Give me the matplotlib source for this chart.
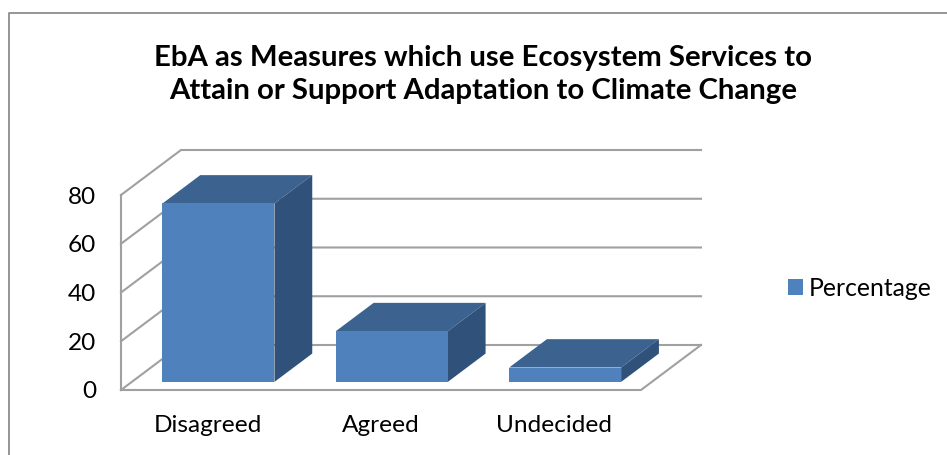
import matplotlib
matplotlib.use("Agg")
import matplotlib.pyplot as plt
from matplotlib.lines import Line2D
from matplotlib.patches import Polygon

plt.rcParams['font.family'] = ['Lato', 'DejaVu Sans']

categories = ['Disagreed', 'Agreed', 'Undecided']
percentage = [73.2, 20.8, 5.9]
y_ticks = [0, 20, 40, 60, 80]
title = 'EbA as Measures which use Ecosystem Services to\nAttain or Support Adaptation to Climate Change'
series_name = 'Percentage'

W, H = 947, 455
FRONT = '#4F81BD'
TOP = '#3C6390'
SIDE = '#30527A'
GRID = '#A0A0A0'

# oblique projection, one depth unit in pixels
DEPTH_X = 60
DEPTH_Y = 45
left, right, y0, y80 = 121, 641, 390, 195
px_x = (right - left) / len(categories)
px_y = (y0 - y80) / 80


def proj(x, v, d):
    return x + d * DEPTH_X / px_x, v + d * DEPTH_Y / px_y


fig = plt.figure(figsize=(W / 100, H / 100), dpi=100)
ax = fig.add_axes([left / W, 1 - y0 / H, (right - left) / W, (y0 - y80) / H])
ax.set_xlim(0, len(categories))
ax.set_ylim(0, 80)
ax.patch.set_visible(False)
for s in ax.spines.values():
    s.set_visible(False)

ax.set_yticks(y_ticks)
ax.set_xticks([i + 0.5 for i in range(len(categories))])
ax.set_xticklabels(categories)
ax.tick_params(axis='y', length=0, pad=18, labelsize=17.6, labelcolor='black')
ax.tick_params(axis='x', length=0, pad=18, labelsize=17.6, labelcolor='black')

n = len(categories)
# walls
for v in y_ticks:
    xs, ys = zip(proj(0, v, 0), proj(0, v, 1), proj(n, v, 1))
    ax.plot(xs, ys, color=GRID, lw=1.5, clip_on=False, zorder=1)
ax.plot([0, 0], [0, 80], color=GRID, lw=1.5, clip_on=False, zorder=1)
xs, ys = zip(proj(0, 0, 0), proj(n, 0, 0), proj(n, 0, 1))
ax.plot(xs, ys, color=GRID, lw=1.5, clip_on=False, zorder=1)

# bars
bar_w = 0.646
d0, d1 = 0.18, 0.81
for i, val in enumerate(percentage):
    x0 = i + (1 - bar_w) / 2
    x1 = x0 + bar_w
    top = [proj(x0, val, d0), proj(x1, val, d0), proj(x1, val, d1), proj(x0, val, d1)]
    side = [proj(x1, 0, d0), proj(x1, val, d0), proj(x1, val, d1), proj(x1, 0, d1)]
    front = [proj(x0, 0, d0), proj(x1, 0, d0), proj(x1, val, d0), proj(x0, val, d0)]
    ax.add_patch(Polygon(top, fc=TOP, ec='none', clip_on=False, zorder=2))
    ax.add_patch(Polygon(side, fc=SIDE, ec='none', clip_on=False, zorder=2))
    ax.add_patch(Polygon(front, fc=FRONT, ec='none', clip_on=False, zorder=3))

fig.text(483 / W, 1 - 74.5 / H, title, ha='center', va='center', fontsize=21.2,
         fontweight='bold', color='black', linespacing=1.32)

handle = Polygon([[0, 0], [1, 0], [1, 1], [0, 1]], fc=FRONT, ec='none')
fig.legend([handle], [series_name], loc='center left', bbox_to_anchor=(788 / W, 1 - 288 / H),
           frameon=False, fontsize=17.8, handlelength=0.62, handleheight=0.62,
           handletextpad=0.2, borderpad=0, borderaxespad=0)

# chart border, cut off at the bottom and right of the image
fig.add_artist(Line2D([9 / W, 9 / W, 1], [0, 1 - 12.5 / H, 1 - 12.5 / H],
                      color='#8C8C8C', lw=1.3))

fig.savefig('out.png', dpi=100)
